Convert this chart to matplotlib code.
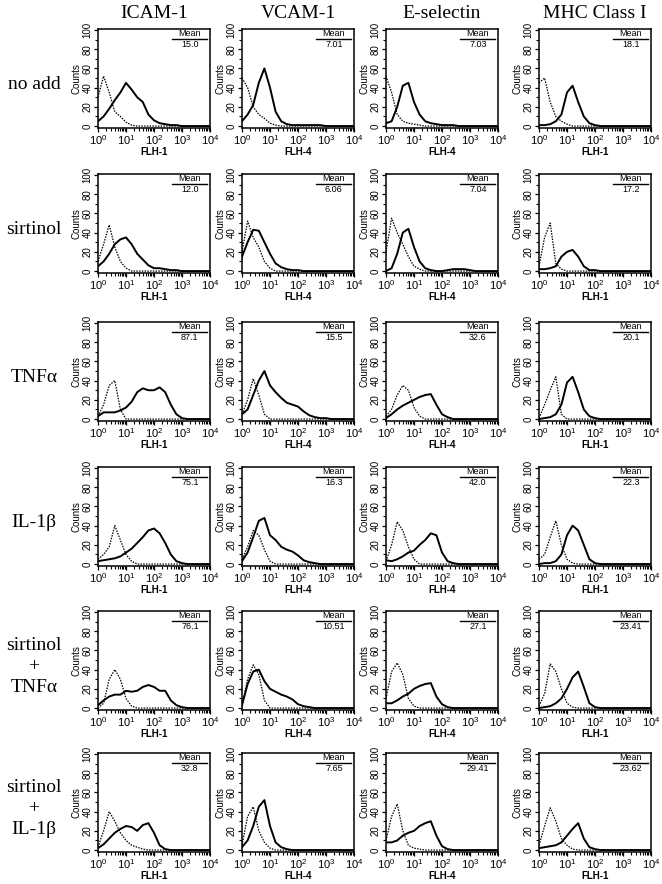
import matplotlib
matplotlib.use("Agg")
import numpy as np
import matplotlib.pyplot as plt
from matplotlib import ticker

# log10 fluorescence positions where the histogram heights were read
LOG_FL = [0.0, 0.2, 0.4, 0.6, 0.8, 1.0, 1.2, 1.4, 1.6, 1.8, 2.0,
          2.2, 2.4, 2.6, 2.8, 3.0, 3.2, 3.4, 3.6, 3.8, 4.0]

MARKERS = ["ICAM-1", "VCAM-1", "E-selectin", "MHC Class I"]
CHANNELS = ["FLH-1", "FLH-4", "FLH-4", "FLH-1"]
TREATMENTS = ["no add", "sirtinol", "TNF\u03b1", "IL-1\u03b2",
              "sirtinol\n+\nTNF\u03b1", "sirtinol\n+\nIL-1\u03b2"]

# mean fluorescence, rows = treatments, cols = markers
MEANS = [["15.0", "7.01", "7.03", "18.1"],
         ["12.0", "6.06", "7.04", "17.2"],
         ["87.1", "15.5", "32.6", "20.1"],
         ["75.1", "16.3", "42.0", "22.3"],
         ["76.1", "10.51", "27.1", "23.41"],
         ["32.8", "7.65", "29.41", "23.62"]]

# stained (solid) and isotype control (dotted) counts, one row per treatment
ICAM_STAINED = [
    [5, 10, 18, 27, 35, 45, 38, 30, 25, 12, 6, 3, 2, 1, 1, 0, 0, 0, 0, 0, 0],
    [5, 10, 18, 28, 33, 35, 28, 18, 12, 6, 3, 3, 2, 1, 1, 0, 0, 0, 0, 0, 0],
    [3, 7, 7, 7, 9, 12, 18, 28, 32, 30, 30, 33, 28, 15, 5, 1, 0, 0, 0, 0, 0],
    [3, 4, 5, 6, 8, 12, 16, 22, 28, 35, 37, 32, 22, 10, 3, 1, 0, 0, 0, 0, 0],
    [3, 8, 12, 14, 14, 18, 17, 18, 22, 24, 22, 18, 18, 8, 3, 1, 0, 0, 0, 0, 0],
    [2, 6, 12, 18, 22, 25, 24, 20, 26, 28, 18, 5, 1, 0, 0, 0, 0, 0, 0, 0, 0]]
ICAM_CONTROL = [
    [30, 52, 35, 15, 10, 4, 1, 0, 0, 0, 0, 0, 0, 0, 0, 0, 0, 0, 0, 0, 0],
    [10, 28, 48, 25, 10, 3, 0, 0, 0, 0, 0, 0, 0, 0, 0, 0, 0, 0, 0, 0, 0],
    [3, 15, 35, 40, 10, 0, 0, 0, 0, 0, 0, 0, 0, 0, 0, 0, 0, 0, 0, 0, 0],
    [5, 10, 18, 40, 25, 10, 3, 0, 0, 0, 0, 0, 0, 0, 0, 0, 0, 0, 0, 0, 0],
    [0, 5, 30, 40, 30, 10, 2, 0, 0, 0, 0, 0, 0, 0, 0, 0, 0, 0, 0, 0, 0],
    [3, 20, 40, 30, 18, 10, 5, 3, 1, 0, 0, 0, 0, 0, 0, 0, 0, 0, 0, 0, 0]]

VCAM_STAINED = [
    [5, 12, 22, 45, 60, 40, 15, 5, 2, 1, 1, 1, 1, 1, 1, 0, 0, 0, 0, 0, 0],
    [15, 30, 43, 42, 30, 18, 8, 4, 2, 1, 1, 0, 0, 0, 0, 0, 0, 0, 0, 0, 0],
    [5, 10, 25, 40, 50, 35, 28, 22, 17, 15, 13, 8, 4, 2, 1, 1, 0, 0, 0, 0, 0],
    [3, 12, 28, 45, 48, 30, 25, 18, 15, 13, 9, 4, 2, 1, 0, 0, 0, 0, 0, 0, 0],
    [3, 25, 38, 40, 28, 20, 17, 14, 12, 9, 4, 2, 1, 0, 0, 0, 0, 0, 0, 0, 0],
    [3, 10, 25, 45, 52, 25, 8, 3, 1, 0, 0, 0, 0, 0, 0, 0, 0, 0, 0, 0, 0]]
VCAM_CONTROL = [
    [50, 40, 20, 12, 8, 3, 1, 0, 0, 0, 0, 0, 0, 0, 0, 0, 0, 0, 0, 0, 0],
    [20, 52, 35, 25, 10, 3, 0, 0, 0, 0, 0, 0, 0, 0, 0, 0, 0, 0, 0, 0, 0],
    [5, 20, 42, 25, 5, 0, 0, 0, 0, 0, 0, 0, 0, 0, 0, 0, 0, 0, 0, 0, 0],
    [5, 18, 35, 30, 15, 3, 0, 0, 0, 0, 0, 0, 0, 0, 0, 0, 0, 0, 0, 0, 0],
    [3, 30, 45, 35, 8, 0, 0, 0, 0, 0, 0, 0, 0, 0, 0, 0, 0, 0, 0, 0, 0],
    [5, 35, 45, 20, 8, 2, 0, 0, 0, 0, 0, 0, 0, 0, 0, 0, 0, 0, 0, 0, 0]]

ESEL_STAINED = [
    [3, 5, 20, 42, 45, 25, 12, 5, 3, 2, 1, 1, 1, 0, 0, 0, 0, 0, 0, 0, 0],
    [0, 3, 18, 40, 44, 25, 10, 3, 1, 0, 0, 1, 2, 2, 2, 1, 0, 0, 0, 0, 0],
    [1, 5, 10, 14, 17, 20, 23, 25, 26, 15, 5, 2, 0, 0, 0, 0, 0, 0, 0, 0, 0],
    [4, 3, 5, 8, 12, 14, 20, 25, 32, 30, 12, 3, 1, 0, 0, 0, 0, 0, 0, 0, 0],
    [5, 5, 8, 12, 15, 20, 23, 25, 26, 12, 4, 1, 0, 0, 0, 0, 0, 0, 0, 0, 0],
    [8, 8, 10, 15, 18, 20, 25, 28, 30, 15, 4, 1, 0, 0, 0, 0, 0, 0, 0, 0, 0]]
ESEL_CONTROL = [
    [52, 35, 12, 5, 3, 2, 1, 0, 0, 0, 0, 0, 0, 0, 0, 0, 0, 0, 0, 0, 0],
    [20, 55, 40, 28, 15, 5, 2, 0, 0, 0, 0, 0, 0, 0, 0, 0, 0, 0, 0, 0, 0],
    [3, 10, 25, 35, 30, 12, 3, 0, 0, 0, 0, 0, 0, 0, 0, 0, 0, 0, 0, 0, 0],
    [3, 20, 44, 35, 18, 5, 0, 0, 0, 0, 0, 0, 0, 0, 0, 0, 0, 0, 0, 0, 0],
    [10, 38, 47, 35, 10, 2, 0, 0, 0, 0, 0, 0, 0, 0, 0, 0, 0, 0, 0, 0, 0],
    [10, 35, 48, 20, 5, 2, 1, 0, 0, 0, 0, 0, 0, 0, 0, 0, 0, 0, 0, 0, 0]]

MHC_STAINED = [
    [1, 1, 2, 5, 12, 35, 42, 25, 10, 3, 1, 0, 0, 0, 0, 0, 0, 0, 0, 0, 0],
    [2, 2, 3, 5, 15, 20, 22, 15, 5, 1, 1, 0, 0, 0, 0, 0, 0, 0, 0, 0, 0],
    [0, 1, 2, 5, 15, 38, 44, 28, 10, 3, 1, 0, 0, 0, 0, 0, 0, 0, 0, 0, 0],
    [0, 1, 1, 3, 10, 30, 40, 35, 20, 5, 1, 0, 0, 0, 0, 0, 0, 0, 0, 0, 0],
    [0, 1, 2, 5, 10, 20, 32, 38, 22, 5, 1, 0, 0, 0, 0, 0, 0, 0, 0, 0, 0],
    [2, 3, 4, 5, 8, 15, 22, 28, 12, 3, 1, 0, 0, 0, 0, 0, 0, 0, 0, 0, 0]]
MHC_CONTROL = [
    [45, 50, 25, 10, 5, 2, 0, 0, 0, 0, 0, 0, 0, 0, 0, 0, 0, 0, 0, 0, 0],
    [5, 35, 50, 8, 2, 0, 0, 0, 0, 0, 0, 0, 0, 0, 0, 0, 0, 0, 0, 0, 0],
    [1, 15, 30, 44, 5, 0, 0, 0, 0, 0, 0, 0, 0, 0, 0, 0, 0, 0, 0, 0, 0],
    [5, 10, 28, 45, 20, 5, 1, 0, 0, 0, 0, 0, 0, 0, 0, 0, 0, 0, 0, 0, 0],
    [2, 15, 46, 38, 20, 5, 1, 0, 0, 0, 0, 0, 0, 0, 0, 0, 0, 0, 0, 0, 0],
    [5, 25, 44, 30, 12, 5, 1, 0, 0, 0, 0, 0, 0, 0, 0, 0, 0, 0, 0, 0, 0]]

STAINED = [ICAM_STAINED, VCAM_STAINED, ESEL_STAINED, MHC_STAINED]
CONTROL = [ICAM_CONTROL, VCAM_CONTROL, ESEL_CONTROL, MHC_CONTROL]

# layout in pixels of the reference
W, H = 662, 884
COL_LEFT = [98, 242, 386, 539]
AX_W = 112
ROW_TOP = [29, 174, 322, 467, 611, 753]
AX_H = 99

SERIF = ["Liberation Serif", "DejaVu Serif"]
SANS = ["Liberation Sans", "DejaVu Sans"]
plt.rcParams["font.family"] = SANS
plt.rcParams["mathtext.default"] = "regular"

fig = plt.figure(figsize=(W / 100, H / 100), dpi=100)
x = 10 ** np.array(LOG_FL)

for r in range(len(TREATMENTS)):
    for c in range(len(MARKERS)):
        ax = fig.add_axes([COL_LEFT[c] / W, 1 - (ROW_TOP[r] + AX_H) / H,
                           AX_W / W, AX_H / H])
        ax.plot(x, CONTROL[c][r], color="black", lw=0.9,
                linestyle=(0, (1.2, 1.0)))
        ax.plot(x, STAINED[c][r], color="black", lw=1.4)
        ax.set_xscale("log")
        ax.set_xlim(1, 1e4)
        ax.set_ylim(-2, 101)
        ax.set_yticks([0, 20, 40, 60, 80, 100])
        ax.yaxis.set_minor_locator(ticker.MultipleLocator(10))
        ax.xaxis.set_major_locator(ticker.LogLocator(base=10, numticks=10))
        ax.xaxis.set_minor_locator(ticker.LogLocator(base=10, subs=np.arange(2, 10), numticks=10))
        ax.xaxis.set_minor_formatter(ticker.NullFormatter())
        ax.tick_params(which="major", length=3, width=0.9, labelsize=8, pad=1)
        ax.tick_params(which="minor", length=2, width=0.8)
        ax.tick_params(axis="y", labelrotation=90, labelsize=7)
        for lab in ax.get_yticklabels():
            lab.set_va("center")
        for sp in ax.spines.values():
            sp.set_linewidth(1.1)
        ax.set_ylabel("Counts", fontsize=7, labelpad=1)
        ax.set_xlabel(CHANNELS[c], fontsize=7, fontweight="bold", labelpad=0)

        # mean box in the upper right corner
        ax.text(0.82, 0.955, "Mean", transform=ax.transAxes, fontsize=6.5,
                ha="center", va="center")
        ax.plot([0.66, 0.97], [0.90, 0.90], transform=ax.transAxes,
                color="black", lw=1.0)
        ax.text(0.82, 0.845, MEANS[r][c], transform=ax.transAxes, fontsize=6.5,
                ha="center", va="center")

# column titles
for c, name in enumerate(MARKERS):
    fig.text((COL_LEFT[c] + AX_W / 2) / W, 1 - 13 / H, name, family=SERIF,
             fontsize=14, ha="center", va="center")

# row labels
for r, name in enumerate(TREATMENTS):
    fig.text(34 / W, 1 - (ROW_TOP[r] + AX_H / 2 + 6) / H, name, family=SERIF,
             fontsize=14, ha="center", va="center", linespacing=1.3)

fig.savefig("out.png", dpi=100, facecolor="white")
